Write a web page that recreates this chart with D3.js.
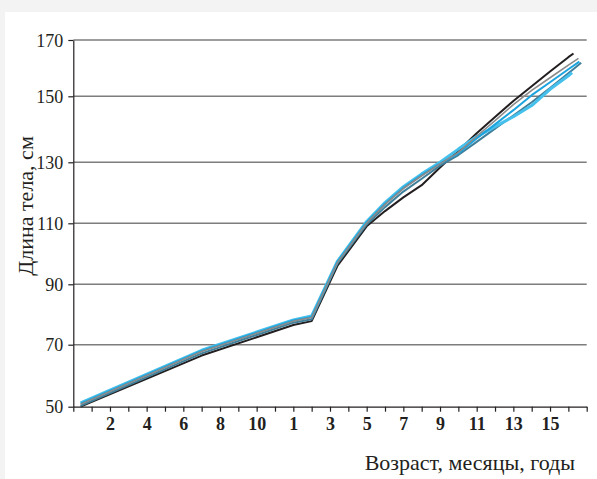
<!DOCTYPE html>
<html><head><meta charset="utf-8">
<script src="https://cdn.jsdelivr.net/npm/d3@7"></script>
<style>
body{margin:0;background:#f3f3f3;}
svg{display:block;}
svg text{font-family:"Liberation Serif","DejaVu Serif",serif !important;}
</style>
</head><body>
<script>
// ---- data ----
const yTicks = [50, 70, 90, 110, 130, 150, 170];
const monthLabels = [2, 4, 6, 8, 10];          // months
const yearLabels = [1, 3, 5, 7, 9, 11, 13, 15]; // years
const tickCount = 28; // 12 months + years 2..17
// ages expressed as position on the axis (0..12 months, then 13 = 2 years ... 28 = 17 years)
const ages = [0.4, 7, 12, 13, 14.4, 16, 17, 18, 19, 20, 21, 22, 23, 24, 25, 26, 27];
const seriesNames = ["black", "teal", "lightcyan", "blue", "gray"];
const blackVals = [50, 66.5, 76.5, 77.8, 96, 109, 114, 118.5, 122.5, 128.3, 133.5, 138.8, 143.7, 148.6, 153.6, 158.8, 163.9];
const tealVals = [50.3, 67.2, 77.3, 78.4, 96.8, 109.6, 115.3, 120.4, 124.6, 128.9, 132.2, 136.2, 140.2, 144.2, 148.2, 152.9, 158.2];
const lightCyanVals = [51.2, 68.2, 78.2, 79.5, 97.5, 110.6, 116.8, 122, 126.2, 130, 134, 137.8, 140.8, 143.8, 147.2, 152.5, 157.3];
const blueVals = [51, 68, 78, 79.2, 97.3, 110.3, 116.4, 121.6, 125.8, 129.6, 132.7, 137.2, 141.5, 145.8, 150.4, 155, 159.6];
const grayVals = [50.8, 67.8, 77.8, 79, 97.1, 110.1, 116.2, 121.4, 125.6, 129.5, 133, 137.9, 142.6, 147.5, 152.1, 156.6, 161.1];
const endAges = [27.28, 27.7, 27.2, 27.6, 27.55];
const endVals = [165.2, 161.9, 158.4, 162.3, 163.5];
const colors = ["#231f20", "#3f7f9a", "#45c0ec", "#1ca4df", "#8a8a8a"];
const widths = [2, 2, 3, 2, 1.6];
const yTitle = "Длина тела, см";
const xTitle = "Возраст, месяцы, годы";

// ---- chart ----
const W = 597, H = 479;
const svg = d3.select("body").append("svg").attr("width", W).attr("height", H);
svg.append("rect").attr("x", 0).attr("y", 0).attr("width", W).attr("height", H).attr("fill", "#f3f3f3");
svg.append("rect").attr("x", 5).attr("y", 12).attr("width", W - 5).attr("height", H - 12).attr("fill", "#ffffff");

const x = d3.scaleLinear().domain([0, tickCount]).range([73.3, 586.7]);
const y = d3.scaleLinear().domain(yTicks).range([406.7, 344.7, 284.3, 223.3, 162.3, 96.3, 40]);

const ink = "#231f20";
const serif = "Liberation Serif";

// grid
svg.append("g").selectAll("line").data(yTicks.slice(1)).join("line")
  .attr("x1", x(0)).attr("x2", x(tickCount))
  .attr("y1", d => y(d)).attr("y2", d => y(d))
  .attr("stroke", "#7d7d7d").attr("stroke-width", 1.4);

// y axis
const yAxis = d3.axisLeft(y).tickValues(yTicks).tickSize(5).tickSizeOuter(0).tickPadding(5);
const gy = svg.append("g").attr("transform", `translate(${x(0)},0)`).call(yAxis)
  .attr("font-family", serif);
gy.select(".domain").attr("stroke", ink).attr("stroke-width", 1.2);
gy.selectAll(".tick line").attr("stroke", ink).attr("stroke-width", 1.2);
gy.selectAll("text").attr("font-size", 18).attr("fill", ink).attr("dy", "0.34em");

// x axis
const labelMap = new Map();
monthLabels.forEach(m => labelMap.set(m, String(m)));
yearLabels.forEach(yr => labelMap.set(11 + yr, String(yr)));
const xAxis = d3.axisBottom(x).tickValues(d3.range(0, tickCount + 1)).tickSize(5).tickSizeOuter(0).tickPadding(6)
  .tickFormat(d => labelMap.get(d) || "");
const gx = svg.append("g").attr("transform", `translate(0,${y(50)})`).call(xAxis)
  .attr("font-family", serif);
gx.select(".domain").attr("stroke", ink).attr("stroke-width", 1.2);
gx.selectAll(".tick line").attr("stroke", ink).attr("stroke-width", 1.2);
gx.selectAll("text").attr("font-size", 18).attr("font-weight", "bold").attr("fill", ink);

// lines
const line = d3.line().x(d => x(d[0])).y(d => y(d[1])).curve(d3.curveLinear);
const allVals = [blackVals, tealVals, lightCyanVals, blueVals, grayVals];
allVals.forEach((vals, i) => {
  const pts = ages.map((a, j) => [a, vals[j]]);
  pts.push([endAges[i], endVals[i]]);
  svg.append("path").datum(pts).attr("d", line)
    .attr("fill", "none").attr("stroke", colors[i]).attr("stroke-width", widths[i])
    .attr("stroke-linejoin", "round").attr("class", "series-" + seriesNames[i]);
});

// titles
svg.append("text").attr("transform", `translate(33,206) rotate(-90)`)
  .attr("text-anchor", "middle").attr("font-family", serif).attr("font-size", 22).attr("fill", ink).text(yTitle);
svg.append("text").attr("x", 575).attr("y", 470).attr("text-anchor", "end")
  .attr("font-family", serif).attr("font-size", 22).attr("fill", ink).text(xTitle);
</script>
</body></html>
